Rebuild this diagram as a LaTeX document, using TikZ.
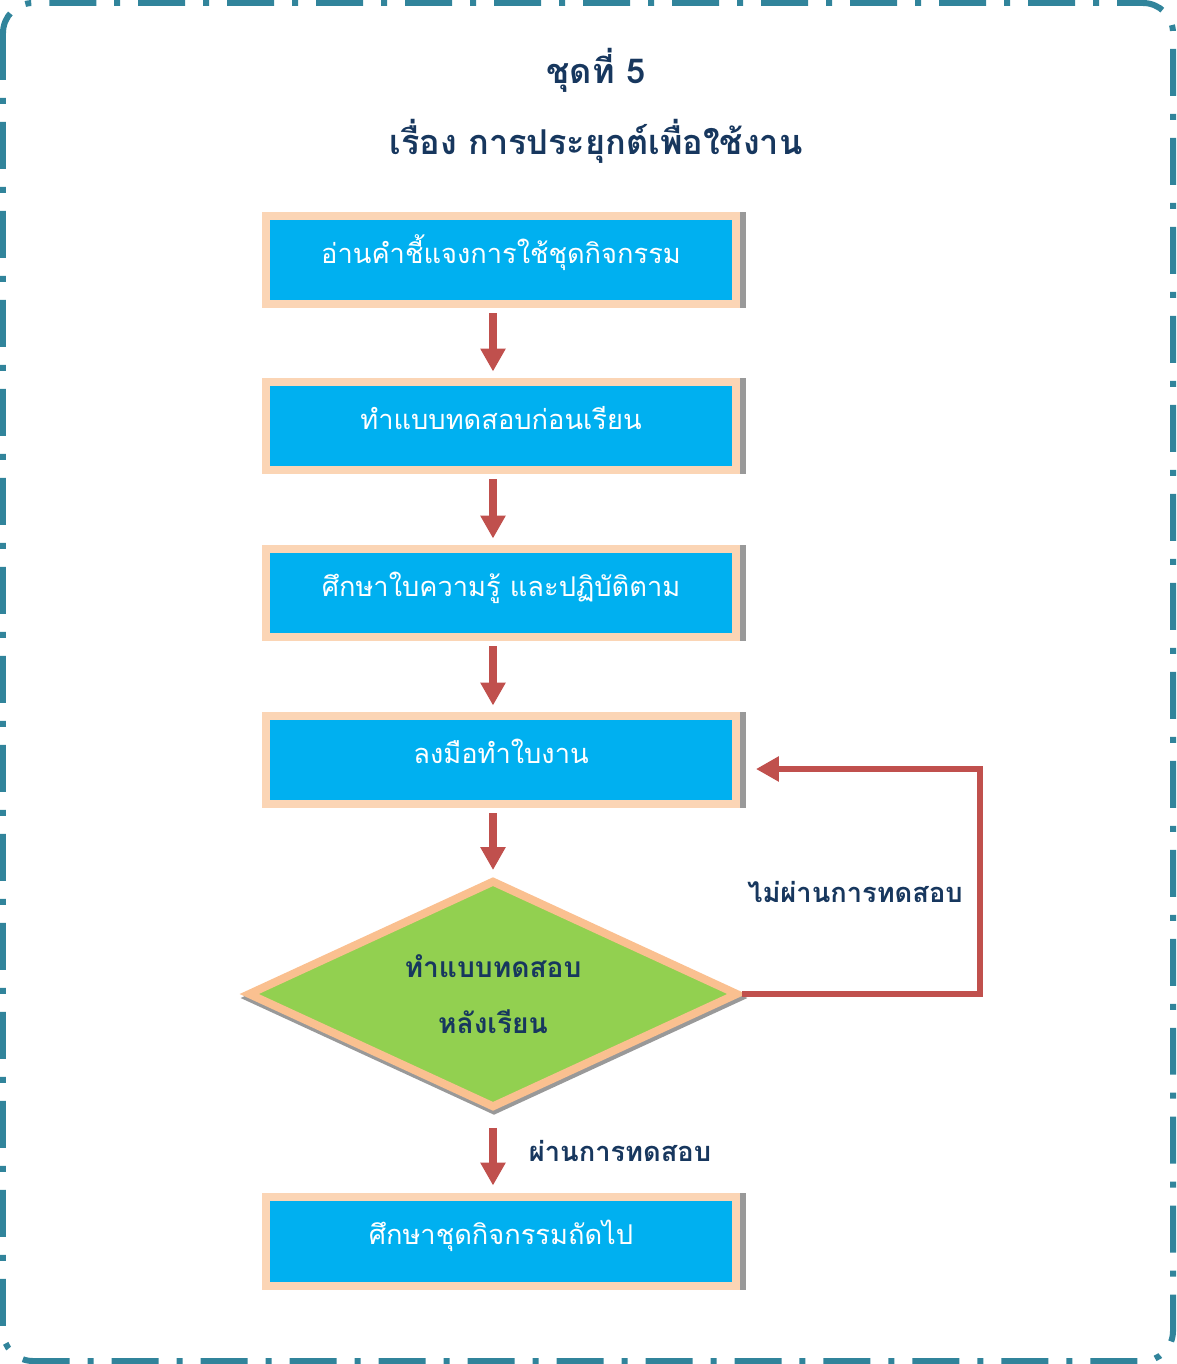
\documentclass[tikz,border=0pt]{standalone}
\usepackage{fontspec}
\newfontfamily\thaifont[Script=Thai]{Loma}
\usepackage{tikz}
\usetikzlibrary{shapes.geometric, arrows.meta, shadows}

\definecolor{frameteal}{HTML}{31849B}
\definecolor{boxblue}{HTML}{00B0F0}
\definecolor{boxpeach}{HTML}{FBD5B5}
\definecolor{diapeach}{HTML}{FAC090}
\definecolor{diagreen}{HTML}{92D050}
\definecolor{arrowred}{HTML}{C0504D}
\definecolor{textnavy}{HTML}{17375E}

\begin{document}
\begin{tikzpicture}[x=0.02cm, y=-0.02cm,
    stepbox/.style={rectangle, draw=boxpeach, line width=0.16cm, fill=boxblue,
        minimum width=9.4cm, minimum height=1.78cm, inner sep=0, text=white,
        font=\thaifont\fontsize{15.5}{19}\selectfont, text height=0.75em, text depth=0.3em,
        general shadow={fill=black!40, draw=black!40, line width=0.16cm, shadow xshift=0.12cm}},
    decision/.style={diamond, aspect=2.15, draw=diapeach, line width=0.16cm, fill=diagreen,
        minimum width=9.82cm, minimum height=4.56cm, inner sep=0, align=center,
        text=textnavy, font=\thaifont\bfseries\fontsize{16}{32}\selectfont,
        general shadow={fill=black!40, draw=black!40, line width=0.16cm,
            shadow xshift=0.02cm, shadow yshift=-0.08cm}},
    note/.style={text=textnavy, font=\thaifont\bfseries\fontsize{15.5}{19}\selectfont},
    heading/.style={text=textnavy, font=\thaifont\bfseries\fontsize{19.5}{24}\selectfont},
    flow/.style={draw=arrowred, line width=0.16cm,
        -{Triangle[width=0.48cm, length=0.46cm]}, shorten <=0.1cm, shorten >=0.12cm},
    loopback/.style={draw=arrowred, line width=0.12cm,
        -{Triangle[width=0.48cm, length=0.46cm]}, shorten >=0.32cm}]
    \useasboundingbox (0,0) rectangle (1176,1364);
    % frame
    \draw[frameteal, line width=0.12cm, rounded corners=0.6cm,
        dash pattern=on 0.94cm off 0.36cm on 0.12cm off 0.36cm] (3,3) rectangle (1173,1361);
    % title
    \node[heading] (title) at (596,70) {ชุดที่ 5};
    \node[heading] (topic) at (596,141) {เรื่อง การประยุกต์เพื่อใช้งาน};
    % steps
    \node[stepbox] (read) at (501,260) {อ่านคำชี้แจงการใช้ชุดกิจกรรม};
    \node[stepbox] (pretest) at (501,426) {ทำแบบทดสอบก่อนเรียน};
    \node[stepbox] (study) at (501,593) {ศึกษาใบความรู้ และปฏิบัติตาม};
    \node[stepbox] (work) at (501,760) {ลงมือทำใบงาน};
    \node[decision] (posttest) at (493,994) {ทำแบบทดสอบ\\หลังเรียน};
    \node[stepbox] (next) at (501,1241) {ศึกษาชุดกิจกรรมถัดไป};
    % arrows
    \draw[flow] (read.south -| posttest) -- (pretest.north -| posttest);
    \draw[flow] (pretest.south -| posttest) -- (study.north -| posttest);
    \draw[flow] (study.south -| posttest) -- (work.north -| posttest);
    \draw[flow] (work.south -| posttest) -- (posttest.north);
    \draw[flow, shorten <=0.32cm, shorten >=0.14cm] (posttest.south) -- (next.north -| posttest);
    % back to the worksheet
    \coordinate (retry) at (980,769);
    \draw[loopback] (posttest.east) -| (retry) -- (retry -| work.east);
    % labels
    \node[note] (fail) at (855,892) {ไม่ผ่านการทดสอบ};
    \node[note] (pass) at (620,1151) {ผ่านการทดสอบ};
\end{tikzpicture}
\end{document}
